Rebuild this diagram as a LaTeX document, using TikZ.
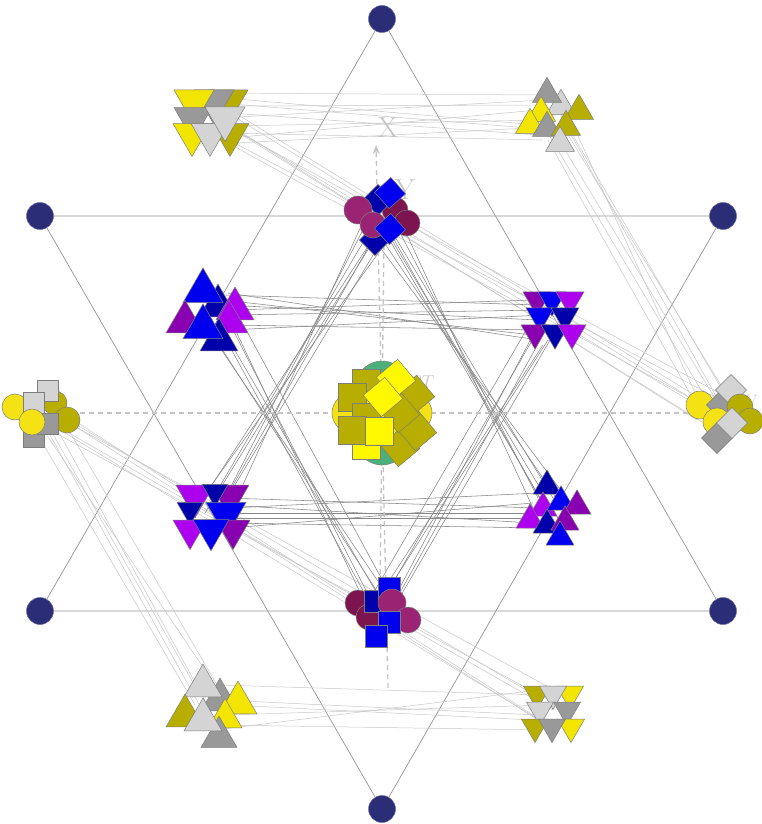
\documentclass[tikz,border=0pt]{standalone}
\usetikzlibrary{calc,arrows.meta}
\definecolor{navy}{RGB}{43,46,118}
\definecolor{yel}{RGB}{242,230,0}
\definecolor{yelc}{RGB}{245,226,20}
\definecolor{yels}{RGB}{255,248,0}
\definecolor{olive}{RGB}{184,174,0}
\definecolor{gry}{RGB}{153,153,153}
\definecolor{lgry}{RGB}{212,212,212}
\definecolor{blu}{RGB}{0,0,238}
\definecolor{dblu}{RGB}{0,0,170}
\definecolor{vio}{RGB}{172,0,238}
\definecolor{dvio}{RGB}{136,0,176}
\definecolor{maro}{RGB}{125,20,80}
\definecolor{purp}{RGB}{155,35,115}
\definecolor{grn}{RGB}{76,176,122}
\definecolor{edgec}{RGB}{125,125,125}
\definecolor{hexc}{RGB}{150,150,150}
\definecolor{lconnc}{RGB}{200,200,200}
\definecolor{dconnc}{RGB}{135,135,135}
\definecolor{axc}{RGB}{196,196,196}
\definecolor{labc}{RGB}{196,196,200}
\newcommand\shUT[4]{\filldraw[shp,fill=#1] (#2,{#3-0.57735*#4}) -- ({#2-0.5*#4},{#3+0.288675*#4}) -- ({#2+0.5*#4},{#3+0.288675*#4}) -- cycle;}
\newcommand\shDT[4]{\filldraw[shp,fill=#1] (#2,{#3+0.57735*#4}) -- ({#2-0.5*#4},{#3-0.288675*#4}) -- ({#2+0.5*#4},{#3-0.288675*#4}) -- cycle;}
\newcommand\shCI[4]{\filldraw[shp,fill=#1] (#2,#3) circle[radius=#4];}
\newcommand\shSQ[5]{\filldraw[shp,fill=#1,rotate around={#5:(#2,#3)}] ({#2-0.5*#4},{#3-0.5*#4}) rectangle ({#2+0.5*#4},{#3+0.5*#4});}
\begin{document}
\begin{tikzpicture}[x=1pt,y=-1pt,
  shp/.style={draw=edgec,line width=0.5pt},
  hexline/.style={draw=hexc,line width=0.7pt},
  lconn/.style={draw=lconnc,line width=0.5pt},
  dconn/.style={draw=dconnc,line width=0.55pt},
  axisline/.style={draw=axc,line width=1.3pt,dash pattern=on 5pt off 4pt},
  navydot/.style={circle,fill=navy,draw=navy!70!white,line width=0.5pt,minimum size=27pt,inner sep=0pt},
  lab/.style={text=labc,inner sep=0pt}]
\useasboundingbox (0,0) rectangle (762,824);
\fill[white] (0,0) rectangle (762,824);
% hexagram vertices
\coordinate (vT) at (382,19);
\coordinate (vB) at (382,809);
\coordinate (vUL) at (40,216);
\coordinate (vUR) at (723,216);
\coordinate (vLL) at (40,611);
\coordinate (vLR) at (723,611);
\draw[hexline] (vT) -- (vLL) -- (vLR) -- cycle;
\draw[hexline] (vB) -- (vUL) -- (vUR) -- cycle;
% cluster centres
\coordinate (TL) at (210,118);
\coordinate (TR) at (553,115);
\coordinate (TC) at (382,212);
\coordinate (LM) at (208,305);
\coordinate (RM) at (553,315);
\coordinate (L) at (40,410);
\coordinate (C) at (382,413);
\coordinate (R) at (722,410);
\coordinate (LL) at (210,513);
\coordinate (RL) at (553,508);
\coordinate (BC) at (382,612);
\coordinate (BL) at (210,705);
\coordinate (BR) at (553,710);
% light connectors
\foreach \a/\b/\c/\d in {10/-25/-10/-20, 15/-20/-15/10, 10/-12/-5/-10, 20/-5/-15/20, 10/0/-10/-15, 20/8/-5/5, 15/15/-10/25, 20/20/-15/-5, 10/-15/0/15, 25/25/-5/12}
  \draw[lconn] ($(TL)+(\a,\b)$) -- ($(TR)+(\c,\d)$);
\foreach \a/\b/\c/\d in {-10/10/-15/-10, 0/15/0/0, 10/5/10/15, -5/25/-20/5, 15/20/5/-15, 5/-5/15/5, 20/10/-10/20}
  \draw[lconn] ($(TR)+(\a,\b)$) -- ($(R)+(\c,\d)$);
\foreach \a/\b/\c/\d in {10/-10/-20/-5, 15/5/0/10, 0/15/-10/0, 20/10/10/-10, 5/0/-15/15, 25/-5/5/5, 15/20/-5/-12, 0/-5/-25/10}
  \draw[lconn] ($(TL)+(\a,\b)$) -- ($(R)+(\c,\d)$);
\foreach \a/\b/\c/\d in {5/10/-10/-10, 15/15/0/5, -5/20/-15/0, 20/5/10/-15, 10/25/-5/10, 0/15/5/-20}
  \draw[lconn] ($(L)+(\a,\b)$) -- ($(BL)+(\c,\d)$);
\foreach \a/\b/\c/\d in {20/5/-10/-10, 15/15/0/0, 25/10/-15/10, 10/20/5/-5, 20/20/-5/15, 5/0/10/-15, 10/-5/-20/5}
  \draw[lconn] ($(L)+(\a,\b)$) -- ($(BR)+(\c,\d)$);
\foreach \a/\b/\c/\d in {10/-20/-10/-15, 10/-5/-15/5, 15/10/-5/-5, 10/20/-10/20, 20/0/-20/10, 5/25/-15/-20}
  \draw[lconn] ($(BL)+(\a,\b)$) -- ($(BR)+(\c,\d)$);
% dark connectors
\foreach \a/\b/\c/\d in {15/-10/-15/-10, 15/0/-15/5, 20/10/-10/-5, 20/20/-15/15, 15/-5/-20/20, 20/25/-10/0, 25/5/-20/-15, 20/-12/-15/25}
  \draw[dconn] ($(LM)+(\a,\b)$) -- ($(RM)+(\c,\d)$);
\foreach \a/\b/\c/\d in {15/-15/-15/0, 20/-5/-15/-15, 20/5/-20/10, 15/10/-10/20, 25/0/-15/5, 20/15/-20/-5, 15/-8/-20/15}
  \draw[dconn] ($(LL)+(\a,\b)$) -- ($(RL)+(\c,\d)$);
\foreach \a/\b/\c/\d in {-10/15/0/-10, -5/20/10/-5, 0/15/-5/0, -15/10/15/-15, 5/20/5/5, -8/25/-10/-10, -20/12/20/0, 10/22/-15/-5}
  \draw[dconn] ($(TC)+(\a,\b)$) -- ($(LL)+(\c,\d)$);
\foreach \a/\b/\c/\d in {0/15/-10/-5, 10/20/0/-10, 5/15/-5/5, -5/20/10/0, 15/15/-15/-10, 8/25/5/10, 20/12/-20/0, -12/22/15/-8}
  \draw[dconn] ($(TC)+(\a,\b)$) -- ($(RL)+(\c,\d)$);
\foreach \a/\b/\c/\d in {10/20/-10/-5, 15/25/0/-10, 5/30/5/-5, 20/15/-5/0, 0/25/10/-10, 25/20/-15/-5, 30/10/15/-5}
  \draw[dconn] ($(LM)+(\a,\b)$) -- ($(BC)+(\c,\d)$);
\foreach \a/\b/\c/\d in {-10/20/10/-5, -15/15/0/-10, -5/25/-5/-5, -20/20/5/0, 0/20/15/-10, -10/30/-10/-5, -25/12/-15/-8}
  \draw[dconn] ($(RM)+(\a,\b)$) -- ($(BC)+(\c,\d)$);
% axes
\coordinate (axL) at (62,413);
\coordinate (axR) at (700,413);
\coordinate (axBot) at (388,688);
\coordinate (axTop) at (376,145);
\coordinate (axB2) at (380,592);
\coordinate (axT2) at (384,236);
\draw[axisline] (axL) -- (axR);
\draw[axisline,-{Stealth[length=9pt,width=7pt]}] (axBot) -- (axTop);
\draw[axisline] (axB2) -- (axT2);
% labels
\node[lab,font=\fontsize{29}{30}\selectfont] (labX) at (388,128) {X};
\node[lab,font=\fontsize{29}{30}\selectfont] (labY) at (405,190) {Y};
\node[lab,font=\fontsize{18}{20}\selectfont] (labT) at (423,381) {$\partial T$};
\node[lab,font=\fontsize{18}{20}\selectfont] (labV) at (751,401) {V};
% navy vertex dots
\node[navydot] (nT) at (vT) {};
\node[navydot] (nB) at (vB) {};
\node[navydot] (nUL) at (vUL) {};
\node[navydot] (nUR) at (vUR) {};
\node[navydot] (nLL) at (vLL) {};
\node[navydot] (nLR) at (vLR) {};
% ---- top-left cluster (down triangles)
\shDT{olive}{228}{101.5}{40}
\shDT{gry}{214}{101.5}{40}
\shDT{yel}{194}{101.5}{40}
\shDT{olive}{230}{134.5}{38}
\shDT{gry}{193}{118.5}{38}
\shDT{yel}{192}{134.5}{38}
\shDT{lgry}{210}{134.5}{38}
\shDT{lgry}{225}{118.5}{40}
% ---- top-right cluster (up triangles)
\shUT{lgry}{561}{106}{29}
\shUT{gry}{547}{94}{29}
\shUT{olive}{579}{111}{29}
\shUT{yel}{541}{113}{29}
\shUT{yel}{530}{125}{29}
\shUT{gry}{547}{128}{29}
\shUT{olive}{566}{127}{29}
\shUT{lgry}{560}{143}{29}
% ---- top centre cluster
\shCI{maro}{395}{210}{13}
\shCI{maro}{407}{223}{13}
\shSQ{dblu}{378}{200}{22}{45}
\shSQ{dblu}{375}{240}{22}{45}
\shCI{purp}{358}{210}{14}
\shCI{purp}{373}{225}{13}
\shSQ{blu}{390}{193}{22}{42}
\shSQ{blu}{390}{229}{22}{42}
% ---- left middle cluster (up triangles)
\shUT{dblu}{218}{306}{38}
\shUT{blu}{203}{291}{40}
\shUT{vio}{235}{309}{38}
\shUT{dvio}{185}{322}{38}
\shUT{vio}{229}{322}{38}
\shUT{dblu}{219}{340}{38}
\shUT{blu}{203}{327}{40}
% ---- right middle cluster (down triangles)
\shDT{dvio}{537}{300}{28}
\shDT{blu}{552}{300}{28}
\shDT{vio}{570}{300}{28}
\shDT{blu}{540}{316}{28}
\shDT{dblu}{565}{316}{28}
\shDT{dvio}{535}{333}{28}
\shDT{dblu}{555}{333}{28}
\shDT{vio}{572}{333}{28}
% ---- left cluster
\shCI{yelc}{15}{407}{13}
\shCI{olive}{55}{403}{12}
\shCI{olive}{67}{420}{13}
\shSQ{lgry}{48}{391}{21}{0}
\shSQ{gry}{34}{437}{21}{0}
\shSQ{gry}{48}{424}{21}{0}
\shSQ{lgry}{34}{403}{21}{0}
\shCI{yelc}{32}{422}{13}
% ---- right cluster
\shCI{yelc}{700}{405}{14}
\shSQ{gry}{722}{405}{22}{45}
\shSQ{lgry}{731}{390}{22}{45}
\shCI{olive}{740}{407}{13}
\shCI{olive}{750}{421}{13}
\shCI{yelc}{717}{422}{14}
\shSQ{gry}{717}{438}{22}{45}
\shSQ{lgry}{732}{423}{22}{45}
% ---- centre cluster
\filldraw[shp,fill=grn] (C) ellipse[x radius=36,y radius=52];
\filldraw[shp,fill=yelc] (C) ellipse[x radius=50,y radius=30];
\shSQ{olive}{366}{383}{28}{0}
\shSQ{olive}{352}{397}{28}{0}
\shSQ{olive}{366}{417}{28}{0}
\shSQ{yels}{366}{445}{28}{0}
\shSQ{olive}{352}{430}{28}{0}
\shSQ{olive}{415}{395}{28}{40}
\shSQ{olive}{400}{447}{28}{40}
\shSQ{olive}{417}{431}{28}{40}
\shSQ{olive}{400}{413}{28}{40}
\shSQ{yels}{396}{379}{28}{40}
\shSQ{yels}{383}{397}{28}{40}
\shSQ{yels}{379}{431}{28}{0}
% ---- left lower cluster (down triangles)
\shDT{dvio}{230}{496}{38}
\shDT{vio}{195}{496}{38}
\shDT{dblu}{215}{492}{26}
\shDT{dblu}{190}{510}{26}
\shDT{blu}{226}{514}{40}
\shDT{vio}{190}{530}{34}
\shDT{dvio}{233}{530}{34}
\shDT{blu}{211}{530}{36}
% ---- right lower cluster (up triangles)
\shUT{dblu}{547}{486}{28}
\shUT{vio}{543}{508}{28}
\shUT{blu}{561}{502}{28}
\shUT{dvio}{577}{506}{28}
\shUT{vio}{530}{520}{28}
\shUT{dblu}{547}{525}{28}
\shUT{dvio}{565}{522}{28}
\shUT{blu}{560}{537}{28}
% ---- bottom centre cluster
\shCI{maro}{358}{603}{13}
\shCI{maro}{369}{617}{13}
\shSQ{dblu}{375}{601}{22}{0}
\shSQ{blu}{389}{588}{22}{0}
\shCI{purp}{392}{603}{14}
\shCI{purp}{408}{620}{13}
\shSQ{blu}{389}{622}{22}{0}
\shSQ{blu}{376}{636}{22}{0}
% ---- bottom-left cluster (up triangles)
\shUT{gry}{220}{700}{38}
\shUT{lgry}{203}{686}{38}
\shUT{yel}{238}{703}{38}
\shUT{olive}{185}{716}{38}
\shUT{yel}{225}{718}{34}
\shUT{gry}{219}{737}{36}
\shUT{lgry}{203}{720}{38}
% ---- bottom-right cluster (down triangles)
\shDT{olive}{537}{694}{27}
\shDT{yel}{570}{694}{27}
\shDT{lgry}{553}{694}{27}
\shDT{lgry}{540}{710}{27}
\shDT{gry}{567}{710}{27}
\shDT{olive}{535}{727}{27}
\shDT{yel}{571}{727}{27}
\shDT{gry}{552}{727}{27}
\end{tikzpicture}
\end{document}
